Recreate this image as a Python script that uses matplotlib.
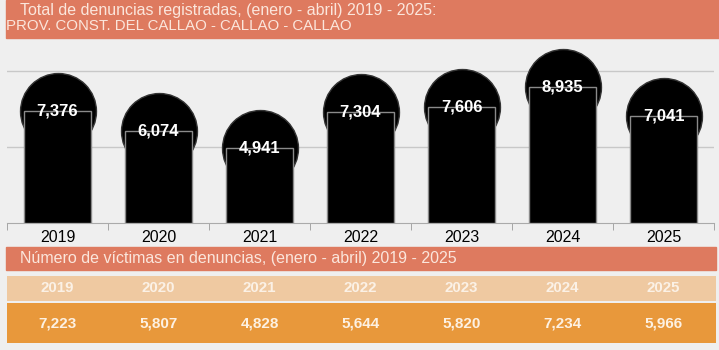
import matplotlib.pyplot as plt
from matplotlib.patches import Rectangle

plt.rcParams['font.family'] = ['Liberation Sans', 'DejaVu Sans']

# Data
years = ['2019', '2020', '2021', '2022', '2023', '2024', '2025']
denuncias = [7376, 6074, 4941, 7304, 7606, 8935, 7041]
victimas = [7223, 5807, 4828, 5644, 5820, 7234, 5966]

title1 = 'Total de denuncias registradas, (enero - abril) 2019 - 2025:'
title2 = 'PROV. CONST. DEL CALLAO - CALLAO - CALLAO'
title3 = 'Número de víctimas en denuncias, (enero - abril) 2019 - 2025'

W, H = 719, 350
bg = '#efefef'
head_col = '#de7a5f'
head_txt = '#fbe6dc'
peach = '#efc9a1'
orange = '#e8983b'

fig = plt.figure(figsize=(W / 100, H / 100), dpi=100, facecolor=bg)


def box(x0, y0, x1, y1):
    # pixel coords (top-left origin) -> figure fraction
    return [x0 / W, 1 - y1 / H, (x1 - x0) / W, (y1 - y0) / H]


# Top header
fig.patches.append(Rectangle((6 / W, 1 - 38 / H), (W - 6) / W, 38 / H,
                             transform=fig.transFigure, color=head_col, zorder=0))
fig.text(20 / W, 1 - 10 / H, title1, color=head_txt, fontsize=11.5, va='center')
fig.text(6 / W, 1 - 26 / H, title2, color=head_txt, fontsize=10.8, va='center')

# Bar chart
ax = fig.add_axes(box(7, 40, 714, 223))
ax.set_facecolor(bg)
x = list(range(len(years)))
ax.scatter(x, denuncias, s=2990, color='black', edgecolor='#333333', lw=1, zorder=2, clip_on=False)
ax.bar(x, denuncias, width=0.67, color='black', edgecolor='#8a8a8a', lw=1, zorder=3)
for xi, v in zip(x, denuncias):
    ax.text(xi, v, f'{v:,}', color='white', fontsize=12, fontweight='bold',
            ha='center', va='center', zorder=4)
ax.set_xlim(-0.5, len(years) - 0.5)
ax.set_ylim(0, 12050)
ax.set_yticks([5000, 10000])
ax.yaxis.grid(True, color='#c8c8c8', lw=1)
ax.set_axisbelow(True)
ax.tick_params(axis='y', left=False, labelleft=False)
ax.set_xticks(x)
ax.set_xticklabels(years, fontsize=11.5)
ax.set_xticks([i - 0.5 for i in range(len(years) + 1)], minor=True)
ax.tick_params(axis='x', which='major', length=0, pad=5)
ax.tick_params(axis='x', which='minor', length=5, color='#999999')
for s in ['top', 'left', 'right']:
    ax.spines[s].set_visible(False)
ax.spines['bottom'].set_color('#aaaaaa')

# Second header
fig.patches.append(Rectangle((6 / W, 1 - 270 / H), 710 / W, 23 / H,
                             transform=fig.transFigure, color=head_col, zorder=0))
fig.text(20 / W, 1 - 259 / H, title3, color=head_txt, fontsize=11.5, va='center')

# Table
tab = fig.add_axes(box(7, 276, 716, 343))
tab.set_xlim(-0.5, 6.5 + 2 / 101)
tab.set_ylim(0, 67)
tab.axis('off')
tab.add_patch(Rectangle((-0.5, 42), 7.02, 25, color=peach, lw=0))
tab.add_patch(Rectangle((-0.5, 0), 7.02, 40, color=orange, lw=0))
for xi, yr, v in zip(x, years, victimas):
    tab.text(xi, 54.5, yr, color='#fbf1e6', fontsize=10.8, fontweight='bold', ha='center', va='center')
    tab.text(xi, 20, f'{v:,}', color='#fdf1e2', fontsize=11, fontweight='bold', ha='center', va='center')

fig.savefig('out.png', dpi=100, facecolor=bg)
